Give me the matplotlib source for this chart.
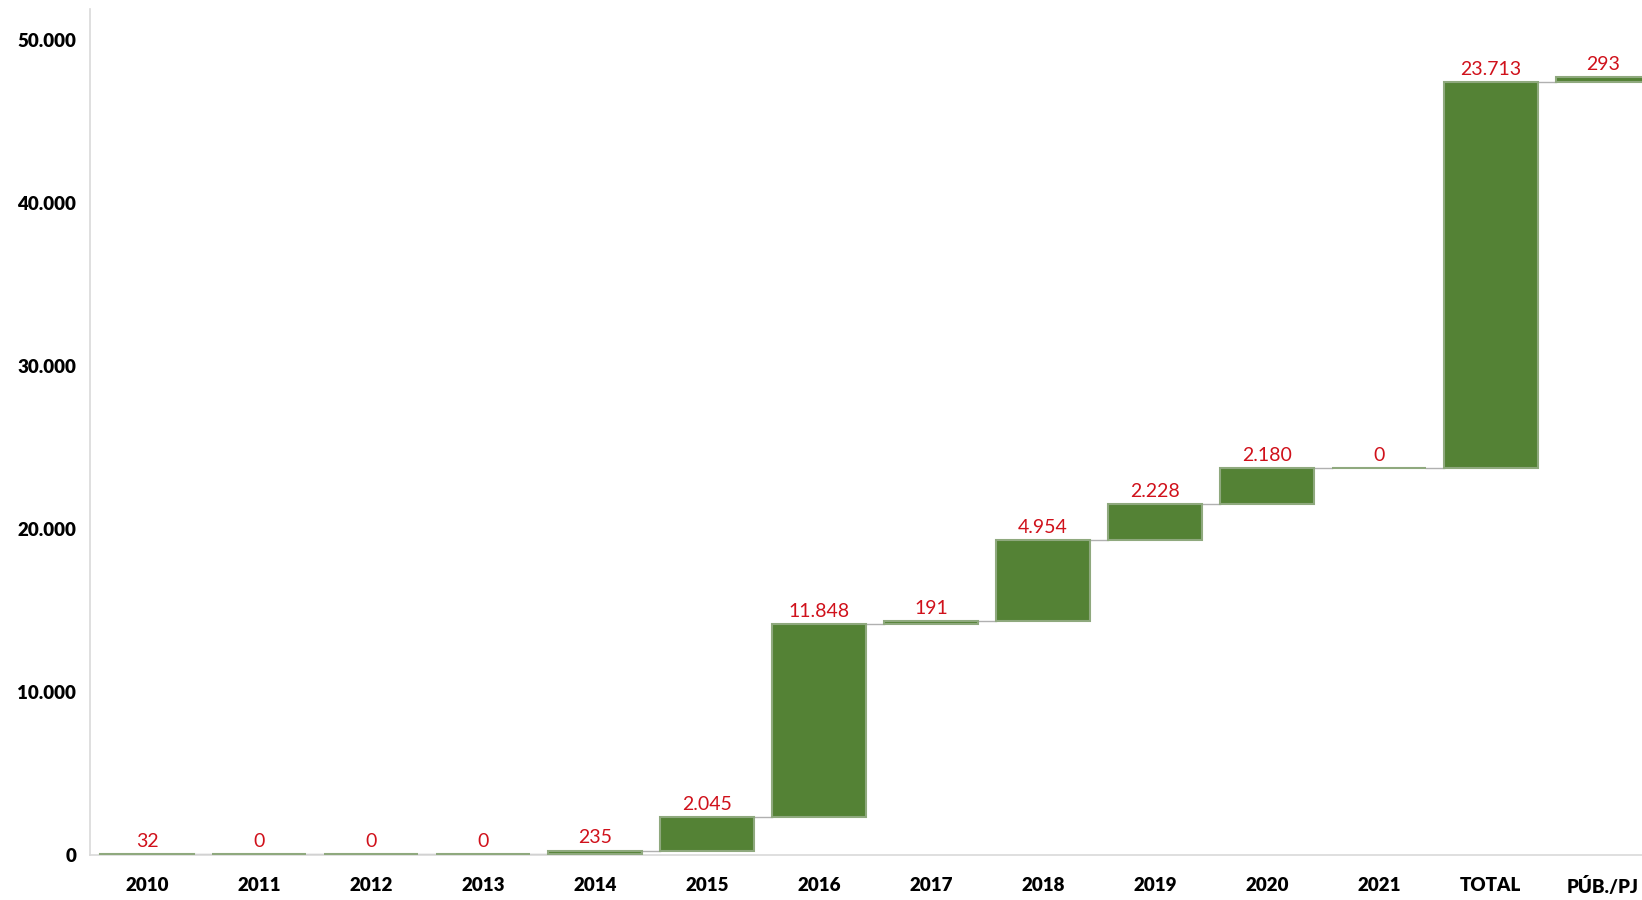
import numpy as np
import matplotlib
matplotlib.use('Agg')
import matplotlib.pyplot as plt
from matplotlib.ticker import FuncFormatter

# categories and increments of the waterfall
categories = ['2010', '2011', '2012', '2013', '2014', '2015', '2016', '2017',
              '2018', '2019', '2020', '2021', 'TOTAL', 'PÚB./PJ']
values = [32, 0, 0, 0, 235, 2045, 11848, 191, 4954, 2228, 2180, 0, 23713, 293]
yticks = [0, 10000, 20000, 30000, 40000, 50000]


def thousands(v, pos=None):
    return '{:,.0f}'.format(v).replace(',', '.')


def main():
    plt.rcParams['font.family'] = ['Lato', 'DejaVu Sans']

    fig = plt.figure(figsize=(16.42, 9), dpi=100)
    ax = fig.add_axes([0.0548, 0.05, 0.9452, 0.94])

    vals = np.array(values, dtype=float)
    tops = np.cumsum(vals)
    bottoms = tops - vals
    x = np.arange(len(categories))
    width = 0.84

    ax.bar(x, vals, bottom=bottoms, width=width, color='#548235',
           edgecolor='#8fa97e', linewidth=1.5, zorder=3)

    # connector lines between bars
    for i in range(len(categories) - 1):
        ax.plot([x[i] + width / 2, x[i + 1] - width / 2], [tops[i], tops[i]],
                color='#b0b0b0', linewidth=1, zorder=2)

    for i, v in enumerate(vals):
        ax.annotate(thousands(v), (x[i], tops[i]), xytext=(0, 3),
                    textcoords='offset points', ha='center', va='bottom',
                    color='#d0111b', fontsize=14)

    ax.set_xlim(-0.51, 13.35)
    ax.set_ylim(0, 51900)
    ax.set_xticks(x)
    ax.set_xticklabels(categories, fontsize=13.5, fontweight='heavy')
    ax.set_yticks(yticks)
    ax.yaxis.set_major_formatter(FuncFormatter(thousands))
    for lab in ax.get_yticklabels():
        lab.set_fontsize(13.5)
        lab.set_fontweight('heavy')
    ax.tick_params(axis='x', length=0, pad=16)
    ax.tick_params(axis='y', length=0, pad=10)

    for s in ['top', 'right']:
        ax.spines[s].set_visible(False)
    ax.spines['left'].set_color('#d9d9d9')
    ax.spines['bottom'].set_color('#d9d9d9')
    ax.spines['left'].set_linewidth(1.2)
    ax.spines['bottom'].set_linewidth(1.2)

    fig.savefig('out.png', dpi=100)


if __name__ == '__main__':
    main()
